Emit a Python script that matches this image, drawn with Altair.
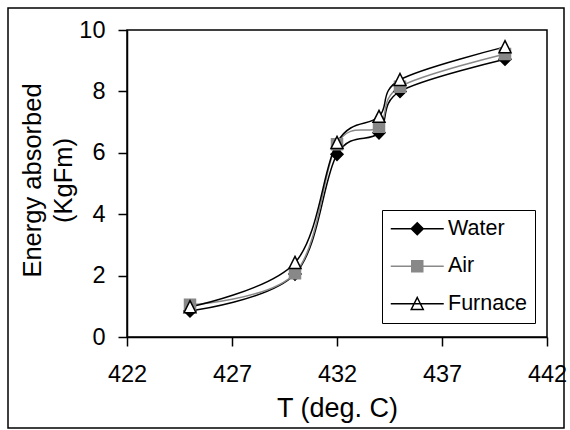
import altair as alt
import pandas as pd

# ---- data ----
temps = [425, 430, 432, 434, 435, 440]
water = [0.85, 2.05, 5.95, 6.65, 8.0, 9.05]
air = [1.05, 2.08, 6.28, 6.85, 8.15, 9.22]
furnace = [0.98, 2.42, 6.33, 7.18, 8.38, 9.45]
series_names = ["Water", "Air", "Furnace"]
x_ticks = [422, 427, 432, 437, 442]
y_ticks = [0, 2, 4, 6, 8, 10]

# ---- styles ----
marker_path = {
    "Water": "M0,-1.2L1.2,0L0,1.2L-1.2,0Z",
    "Air": "M-1.1,-1.1H1.1V1.1H-1.1Z",
    "Furnace": "M0,-1.25L1.2,1.15L-1.2,1.15Z",
}
line_col = {"Water": "#000000", "Air": "#888888", "Furnace": "#000000"}
fill_col = {"Water": "#000000", "Air": "#888888", "Furnace": "#ffffff"}
stroke_col = {"Water": "#000000", "Air": "#888888", "Furnace": "#000000"}
legend_path = {k: "M-5.3,0H5.3" + v for k, v in marker_path.items()}

rows = []
for name, vals in zip(series_names, [water, air, furnace]):
    for t, v in zip(temps, vals):
        rows.append({"T": t, "E": v, "series": name,
                     "lcol": line_col[name], "fcol": fill_col[name],
                     "scol": stroke_col[name], "shp": marker_path[name]})
df = pd.DataFrame(rows)

FONT = "Liberation Sans"

xenc = alt.X("T:Q", scale=alt.Scale(domain=[422, 442], nice=False, zero=False),
             axis=alt.Axis(values=x_ticks, title="T (deg. C)", labelFlush=False,
                           labelPadding=16, titleFontSize=27,
                           titleBaseline="alphabetic", titleY=79))
yenc = alt.Y("E:Q", scale=alt.Scale(domain=[0, 10], nice=False),
             axis=alt.Axis(values=y_ticks, title=["Energy absorbed", "(KgFm)"],
                           labelPadding=13, titleFontSize=25.5, titleLineHeight=31,
                           titleBaseline="top", titleAlign="center",
                           titleAngle=270, titleX=-107, titleY=150))

base = alt.Chart(df)

lines = base.mark_line(interpolate="cardinal", tension=0, strokeWidth=1.5).encode(
    x=xenc, y=yenc,
    stroke=alt.Stroke("lcol:N", scale=None),
    detail="series:N",
)

points = base.mark_point(filled=True, strokeWidth=1.5, size=100, opacity=1).encode(
    x="T:Q", y="E:Q",
    shape=alt.Shape("shp:N", scale=None),
    fill=alt.Fill("fcol:N", scale=None),
    stroke=alt.Stroke("scol:N", scale=None),
)

legend_layer = base.mark_point(filled=True, opacity=0).encode(
    x="T:Q", y="E:Q",
    shape=alt.Shape("series:N",
                    scale=alt.Scale(domain=series_names,
                                    range=[legend_path[s] for s in series_names]),
                    legend=alt.Legend(title=None, orient="none", legendX=255, legendY=180,
                                      padding=8, strokeColor="black", fillColor="white",
                                      labelFont=FONT, labelFontSize=21.5, labelColor="black",
                                      symbolSize=100, symbolStrokeWidth=1.5,
                                      symbolOpacity=1, symbolOffset=16.5, labelOffset=20,
                                      rowPadding=14.5)),
    fill=alt.Fill("series:N", scale=alt.Scale(domain=series_names,
                                               range=[fill_col[s] for s in series_names])),
    stroke=alt.Stroke("series:N", scale=alt.Scale(domain=series_names,
                                                   range=[stroke_col[s] for s in series_names])),
)

frame = alt.Chart(alt.Data(values=[{}])).mark_rect(
    fillOpacity=0, stroke="black", strokeWidth=1.5
).encode(x=alt.value(-119), x2=alt.value(437), y=alt.value(-22), y2=alt.value(398))

chart = alt.layer(frame, lines, points, legend_layer).properties(
    width=420, height=307,
    autosize=alt.AutoSizeParams(type="none"),
    padding={"left": 127, "top": 30, "right": 23, "bottom": 93},
    background="white",
).configure_view(
    stroke="black", strokeWidth=1.5
).configure_axis(
    grid=False, domainColor="black", domainWidth=1.5, tickColor="black",
    tickWidth=1.5, tickSize=9, labelFont=FONT, labelFontSize=23.5, labelColor="black",
    titleFont=FONT, titleFontWeight="normal", titleColor="black",
)

chart.save("out.html", embed_options={"renderer": "svg", "actions": False})
